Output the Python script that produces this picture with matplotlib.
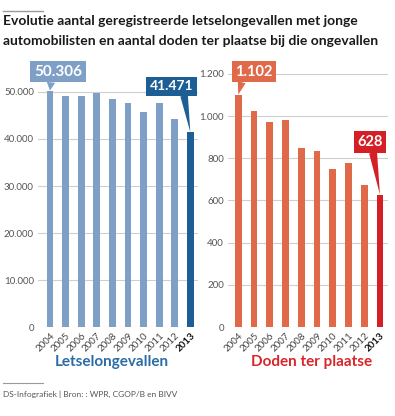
import matplotlib
matplotlib.use("Agg")
import matplotlib.pyplot as plt
from matplotlib.ticker import FuncFormatter
from matplotlib.lines import Line2D

plt.rcParams['font.family'] = ['Lato', 'DejaVu Sans']

years = ['2004', '2005', '2006', '2007', '2008', '2009', '2010', '2011', '2012', '2013']
letsel = [50306, 49200, 49200, 49700, 48600, 47700, 45700, 47700, 44200, 41471]
doden = [1102, 1025, 974, 980, 847, 835, 749, 778, 673, 628]

blue_light = '#7e9fc6'
blue_dark = '#1d5e94'
red_light = '#e0694a'
red_dark = '#d41f26'


def dutch(v, pos=None):
    return f"{int(v):,}".replace(',', '.')


def draw_panel(ax, values, c_light, c_dark, ymax, step, callouts):
    x = range(len(values))
    colors = [c_light] * (len(values) - 1) + [c_dark]
    ax.bar(x, values, width=0.43, color=colors, zorder=3)
    ax.set_ylim(0, ymax)
    ax.set_yticks(range(0, int(ymax), step))
    ax.yaxis.set_major_formatter(FuncFormatter(dutch))
    ax.grid(axis='y', color='#cfcfcf', linewidth=0.8, zorder=0)
    for s in ax.spines.values():
        s.set_visible(False)
    ax.tick_params(axis='y', length=0, pad=3, labelsize=7, labelcolor='#555555')
    ax.tick_params(axis='x', length=0, pad=3)
    ax.set_xticks(list(x))
    ax.set_xticklabels(years, rotation=45, ha='right', va='top',
                       rotation_mode='anchor', fontsize=7, color='#444444')
    lbls = ax.get_xticklabels()
    lbls[-1].set_fontweight('bold')
    lbls[-1].set_color('#111111')

    # callout boxes with a pointer down to the bar
    for idx, offs, rel, col, fs in callouts:
        ax.annotate(dutch(values[idx]), xy=(idx, values[idx]), xytext=offs,
                    textcoords='offset points', ha='center', va='center',
                    fontsize=fs, fontweight='bold', color='white', zorder=5,
                    bbox=dict(boxstyle='square,pad=0.25', fc=col, ec='none'),
                    arrowprops=dict(arrowstyle='wedge,tail_width=0.55', fc=col, ec='none',
                                    shrinkA=0, shrinkB=0, relpos=rel),
                    annotation_clip=False)


fig = plt.figure(figsize=(3.95, 4.16), dpi=100)

ax1 = fig.add_axes([0.0962, 0.2139, 0.405, 0.6418])
ax1.set_xlim(-0.77, 9.49)
draw_panel(ax1, letsel, blue_light, blue_dark, 56800, 10000,
           [(0, (5.8, 13.7), (0.36, 0), blue_light, 11),
            (9, (-13.7, 33), (0.78, 0), blue_dark, 10)])

ax2 = fig.add_axes([0.5772, 0.2139, 0.405, 0.6418])
ax2.set_xlim(-0.65, 9.51)
draw_panel(ax2, doden, red_light, red_dark, 1266, 200,
           [(0, (11.3, 16.6), (0.2, 0), red_light, 10.5),
            (9, (-7.2, 37.8), (0.6, 0), red_dark, 10.5)])

# title
fig.add_artist(Line2D([3 / 395, 43 / 395], [1 - 11 / 416] * 2, color='#9a9a9a', lw=1))
fig.text(3 / 395, 1 - 21 / 416, 'Evolutie aantal geregistreerde letselongevallen met jonge',
         fontsize=10, fontweight='bold', color='#1a1a1a', va='center')
fig.text(3 / 395, 1 - 41 / 416, 'automobilisten en aantal doden ter plaatse bij die ongevallen',
         fontsize=10, fontweight='bold', color='#1a1a1a', va='center')

# panel subtitles
fig.text(112 / 395, 1 - 362 / 416, 'Letselongevallen', fontsize=11, fontweight='bold',
         color='#2c6ca4', ha='center', va='center')
fig.text(312 / 395, 1 - 362 / 416, 'Doden ter plaatse', fontsize=11, fontweight='bold',
         color='#d8262a', ha='center', va='center')

# footer
fig.add_artist(Line2D([3 / 395, 43 / 395], [1 - 383 / 416] * 2, color='#9a9a9a', lw=0.8))
fig.text(3 / 395, 1 - 394 / 416, 'DS-Infografiek | Bron: : WPR, CGOP/B en BIVV',
         fontsize=6, color='#555555', va='center')

fig.savefig('out.png', dpi=100)
